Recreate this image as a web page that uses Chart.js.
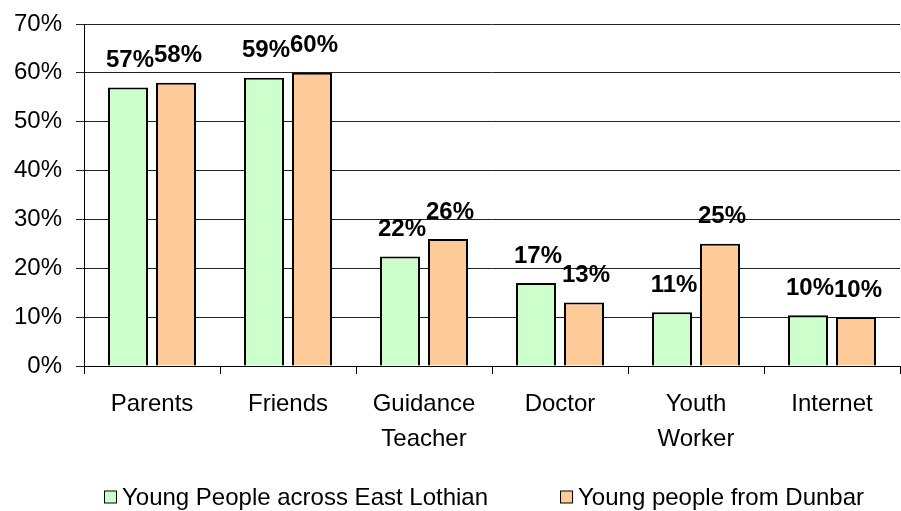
<!DOCTYPE html>
<html>
<head>
<meta charset="utf-8">
<script src="https://cdn.jsdelivr.net/npm/chart.js@4/dist/chart.umd.min.js"></script>
<style>
  html, body { margin: 0; padding: 0; background: #fff; }
  #wrap { width: 901px; height: 511px; position: relative; }
</style>
</head>
<body>
<div id="wrap"><canvas id="c" width="901" height="511"></canvas></div>
<script>
const categories = [["Parents"], ["Friends"], ["Guidance", "Teacher"], ["Doctor"], ["Youth", "Worker"], ["Internet"]];
const seriesNames = ["Young People across East Lothian", "Young people from Dunbar"];
const eastLothian = [57, 59, 22.4, 17, 11, 10.4];
const dunbar = [58, 60, 26, 13, 25, 10];
const yTicks = [0, 10, 20, 30, 40, 50, 60, 70];

const FONT = "'Liberation Sans', Arial, sans-serif";

const valueLabels = {
  id: 'valueLabels',
  afterDatasetsDraw(chart) {
    const ctx = chart.ctx;
    ctx.save();
    ctx.font = "bold 24px " + FONT;
    ctx.fillStyle = '#000';
    ctx.textAlign = 'center';
    ctx.textBaseline = 'middle';
    chart.data.datasets.forEach((ds, i) => {
      const meta = chart.getDatasetMeta(i);
      meta.data.forEach((el, j) => {
        ctx.fillText(Math.round(ds.data[j]) + '%', el.x + 2, el.y - 27);
      });
    });
    ctx.restore();
  }
};

const customLegend = {
  id: 'customLegend',
  afterDraw(chart) {
    const ctx = chart.ctx;
    ctx.save();
    ctx.font = "24px " + FONT;
    ctx.textBaseline = 'middle';
    ctx.textAlign = 'left';
    const box = 13, gap = 5, between = 72;
    let x = 104;
    const y = 497;
    chart.data.datasets.forEach(ds => {
      ctx.fillStyle = ds.backgroundColor;
      ctx.fillRect(x + 0.5, y - box / 2 + 0.5, box - 1, box - 1);
      ctx.strokeStyle = '#000';
      ctx.lineWidth = 1;
      ctx.strokeRect(x + 0.5, y - box / 2 + 0.5, box - 1, box - 1);
      ctx.fillStyle = '#000';
      ctx.fillText(ds.label, x + box + gap, y + 1);
      x += box + gap + ctx.measureText(ds.label).width + between;
    });
    ctx.restore();
  }
};

new Chart(document.getElementById('c'), {
  type: 'bar',
  data: {
    labels: categories,
    datasets: [
      { label: seriesNames[0], data: eastLothian, backgroundColor: '#CCFFCC', borderColor: '#000', borderWidth: 2 },
      { label: seriesNames[1], data: dunbar, backgroundColor: '#FFCC99', borderColor: '#000', borderWidth: 2 }
    ]
  },
  options: {
    responsive: false,
    animation: false,
    devicePixelRatio: 1,
    layout: { padding: { top: 24, right: 1, left: 0, bottom: 0 } },
    datasets: { bar: { categoryPercentage: 0.706, barPercentage: 0.833 } },
    plugins: { legend: { display: false }, tooltip: { enabled: false } },
    scales: {
      x: {
        afterFit(scale) { scale.height = 145; scale.paddingLeft = 0; scale.paddingRight = 0; },
        grid: { display: true, drawOnChartArea: false, offset: true, color: '#000', tickLength: 8, lineWidth: 1 },
        border: { color: '#000', width: 1 },
        ticks: { color: '#000', font: { family: FONT, size: 24, lineHeight: 1.45 }, padding: 13, maxRotation: 0, autoSkip: false }
      },
      y: {
        min: 0, max: 70,
        afterFit(scale) { scale.width = 84; scale.paddingTop = 0; scale.paddingBottom = 0; },
        afterBuildTicks(scale) { scale.ticks = yTicks.map(v => ({ value: v })); },
        grid: { color: '#222', lineWidth: 1, tickLength: 8 },
        border: { color: '#000', width: 1 },
        ticks: { color: '#000', font: { family: FONT, size: 24 }, padding: 14, callback: v => v + '%' }
      }
    }
  },
  plugins: [valueLabels, customLegend]
});
</script>
</body>
</html>
